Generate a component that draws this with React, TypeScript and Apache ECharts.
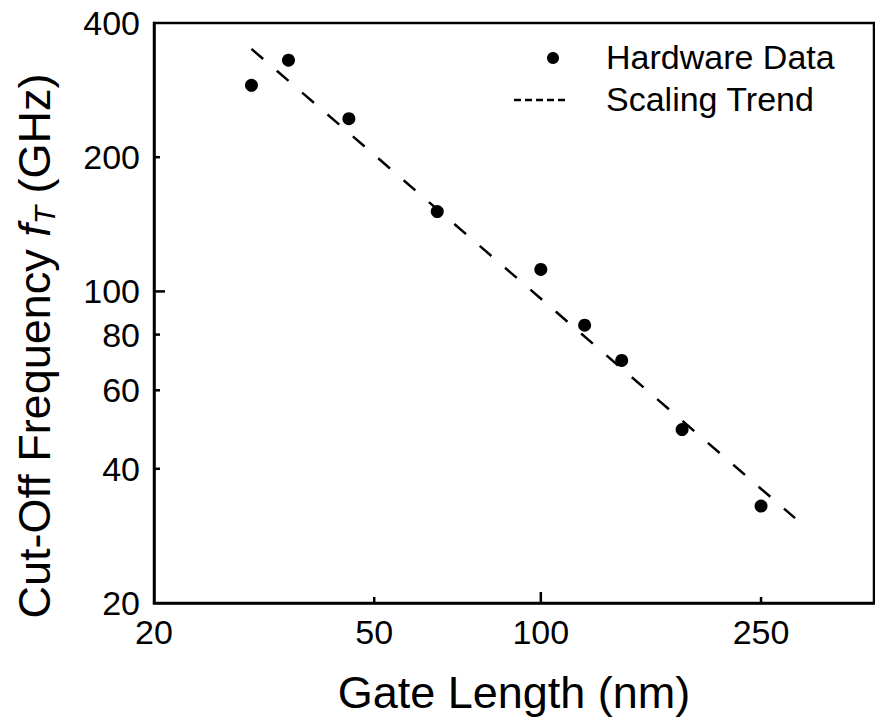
import React, { useEffect, useRef } from "react";
import * as echarts from "echarts";

// ---- data ----
const gateLength: number[] = [30, 35, 45, 65, 100, 120, 140, 180, 250];
const cutoffFreq: number[] = [290, 330, 244, 151, 112, 84, 70, 49, 33];
const trendLength: number[] = [30, 288];
const trendFreq: number[] = [350, 31];

const xLabelValues: number[] = [20, 50, 100, 250];
const xMinorTicks: number[] = [50, 250];
const xMajorTicks: number[] = [100];
const yLabelValues: number[] = [20, 40, 60, 80, 100, 200, 400];
const yMinorTicks: number[] = [40, 60, 80, 200];
const yMajorTicks: number[] = [100];

const seriesNames: string[] = ["Hardware Data", "Scaling Trend"];
const xTitle = "Gate Length (nm)";
const yTitleRich = "Cut-Off Frequency {i|f}{s|T} (GHz)";

const AXIS_MIN = 20;
const AXIS_MAX = 400;
const MINOR_LEN = 6;
const MAJOR_LEN = 11;

const FONT = '"Liberation Sans", Arial, Helvetica, sans-serif';

export default function App() {
  const ref = useRef<HTMLDivElement>(null);

  useEffect(() => {
    document.body.style.margin = "0";
    if (!ref.current) return;
    const chart = echarts.init(ref.current, null, { renderer: "svg" });

    const axisLine = { show: true, lineStyle: { color: "#000", width: 2.5 } };
    const labelStyle = {
      color: "#000",
      fontSize: 34,
      fontFamily: FONT,
      formatter: (v: number) => String(Math.round(v)),
    };

    const trend = trendLength.map((v, i) => [v, trendFreq[i]]);
    const pts = gateLength.map((v, i) => [v, cutoffFreq[i]]);

    const staticGraphic: any[] = [
      {
        type: "text",
        x: 34,
        y: 346,
        rotation: Math.PI / 2,
        style: {
          text: yTitleRich,
          fontSize: 45,
          fontFamily: FONT,
          fill: "#000",
          align: "center",
          verticalAlign: "middle",
          rich: {
            i: { fontStyle: "italic", fontSize: 45, fontFamily: FONT, fill: "#000" },
            s: { fontStyle: "italic", fontSize: 30, fontFamily: FONT, fill: "#000", padding: [20, 0, 0, 0] },
          },
        },
      },
      {
        type: "text",
        x: 514,
        y: 692,
        style: { text: xTitle, fontSize: 45, fontFamily: FONT, fill: "#000", align: "center", verticalAlign: "middle" },
      },
      { type: "circle", shape: { cx: 553, cy: 58, r: 6 }, style: { fill: "#000" } },
      {
        type: "text",
        x: 606,
        y: 57,
        style: { text: seriesNames[0], fontSize: 34, fontFamily: FONT, fill: "#000", align: "left", verticalAlign: "middle" },
      },
      {
        type: "line",
        shape: { x1: 514, y1: 100, x2: 569, y2: 100 },
        style: { stroke: "#000", lineWidth: 2.5, lineDash: [7, 4] },
      },
      {
        type: "text",
        x: 606,
        y: 99,
        style: { text: seriesNames[1], fontSize: 34, fontFamily: FONT, fill: "#000", align: "left", verticalAlign: "middle" },
      },
    ];

    chart.setOption({
      animation: false,
      backgroundColor: "#fff",
      grid: {
        left: 154,
        right: 1,
        top: 23,
        bottom: 118,
        show: true,
        borderColor: "#000",
        borderWidth: 2.5,
        backgroundColor: "transparent",
      },
      xAxis: {
        type: "log",
        logBase: 10,
        min: AXIS_MIN,
        max: AXIS_MAX,
        position: "bottom",
        axisLine,
        splitLine: { show: false },
        minorTick: { show: false },
        minorSplitLine: { show: false },
        axisTick: { show: false },
        axisLabel: { ...labelStyle, margin: 12, customValues: xLabelValues },
      },
      yAxis: {
        type: "log",
        logBase: 10,
        min: AXIS_MIN,
        max: AXIS_MAX,
        position: "left",
        axisLine,
        splitLine: { show: false },
        minorTick: { show: false },
        minorSplitLine: { show: false },
        axisTick: { show: false },
        axisLabel: { ...labelStyle, margin: 14, customValues: yLabelValues },
      },
      series: [
        {
          name: seriesNames[0],
          type: "scatter",
          data: pts,
          symbol: "circle",
          symbolSize: 13,
          itemStyle: { color: "#000", opacity: 1 },
          z: 3,
        },
        {
          name: seriesNames[1],
          type: "line",
          data: trend,
          symbol: "none",
          lineStyle: { color: "#000", width: 2.5, type: [15.5, 18] },
          z: 2,
        },
      ],
      graphic: staticGraphic,
    });

    // inward tick marks, positioned through the chart's own log scales
    const tickStyle = { stroke: "#000", lineWidth: 2.5 };
    const xTick = (v: number, len: number) => {
      const p = chart.convertToPixel({ gridIndex: 0 }, [v, AXIS_MIN]) as number[];
      return { type: "line", z: 50, shape: { x1: p[0], y1: p[1], x2: p[0], y2: p[1] - len }, style: tickStyle };
    };
    const yTick = (v: number, len: number) => {
      const p = chart.convertToPixel({ gridIndex: 0 }, [AXIS_MIN, v]) as number[];
      return { type: "line", z: 50, shape: { x1: p[0], y1: p[1], x2: p[0] + len, y2: p[1] }, style: tickStyle };
    };
    const ticks = [
      ...xMinorTicks.map((v) => xTick(v, MINOR_LEN)),
      ...xMajorTicks.map((v) => xTick(v, MAJOR_LEN)),
      ...yMinorTicks.map((v) => yTick(v, MINOR_LEN)),
      ...yMajorTicks.map((v) => yTick(v, MAJOR_LEN)),
    ];
    chart.setOption({ graphic: [...staticGraphic, ...ticks] });

    return () => chart.dispose();
  }, []);

  return (
    <div
      ref={ref}
      style={{ position: "fixed", left: 0, top: 0, width: 875, height: 721, background: "#fff" }}
    />
  );
}
